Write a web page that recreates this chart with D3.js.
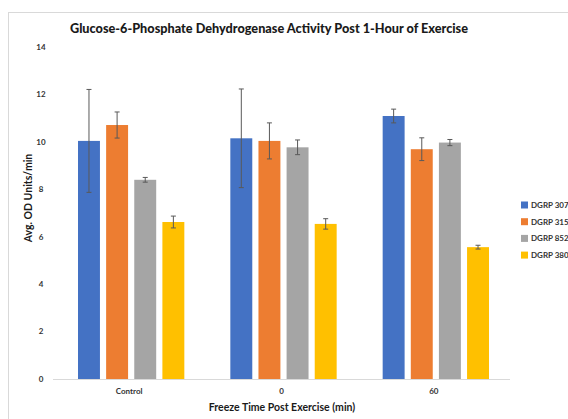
<!DOCTYPE html>
<html>
<head>
<meta charset="utf-8">
<script src="https://cdn.jsdelivr.net/npm/d3@7"></script>
<style>
  body { margin: 0; background: #fff; }
  text { font-family: Lato, "Open Sans", sans-serif; }
</style>
</head>
<body>
<div id="chart"></div>
<script>
// data
var categories = ["Control", "0", "60"];
var series = ["DGRP 307", "DGRP 315", "DGRP 852", "DGRP 380"];
var colors = ["#4472C4", "#ED7D31", "#A5A5A5", "#FFC000"];
var values = [
  [10.04, 10.15, 11.09],
  [10.71, 10.04, 9.69],
  [8.40, 9.77, 9.97],
  [6.62, 6.54, 5.56]
];
var errors = [
  [2.17, 2.08, 0.29],
  [0.55, 0.76, 0.48],
  [0.10, 0.31, 0.13],
  [0.25, 0.22, 0.08]
];
var yTicks = [0, 2, 4, 6, 8, 10, 12, 14];

var W = 568, H = 419;
var margin = {top: 47, left: 53},
    width = 457, height = 332;

var svg = d3.select("#chart").append("svg")
    .attr("width", W).attr("height", H);

// chart frame
svg.append("rect")
    .attr("x", 8.5).attr("y", 12.5)
    .attr("width", 620).attr("height", 430)
    .attr("fill", "#fff").attr("stroke", "#d9d9d9");

var g = svg.append("g")
    .attr("transform", "translate(" + margin.left + "," + margin.top + ")");

var x0 = d3.scaleBand().domain(categories).range([0, width]);
var x1 = d3.scaleBand().domain(series).range([25, x0.bandwidth() - 21]).paddingInner(0.22);
var y = d3.scaleLinear().domain([0, 14]).range([height, 0]);

// y tick labels
g.selectAll(".ytick")
    .data(yTicks)
    .enter().append("text")
    .attr("x", -12)
    .attr("y", function(d) { return y(d); })
    .attr("dy", "0.35em")
    .attr("text-anchor", "middle")
    .attr("font-size", 8)
    .attr("font-weight", "bold")
    .attr("fill", "#333")
    .text(function(d) { return d; });

// bars
var rows = [];
series.forEach(function(s, i) {
  categories.forEach(function(c, j) {
    rows.push({s: s, c: c, v: values[i][j], e: errors[i][j], col: colors[i]});
  });
});

g.selectAll(".bar")
    .data(rows)
    .enter().append("rect")
    .attr("x", function(d) { return x0(d.c) + x1(d.s); })
    .attr("y", function(d) { return y(d.v); })
    .attr("width", x1.bandwidth())
    .attr("height", function(d) { return height - y(d.v); })
    .attr("fill", function(d) { return d.col; });

// x axis line
g.append("line")
    .attr("x1", 0).attr("x2", width)
    .attr("y1", height + 0.5).attr("y2", height + 0.5)
    .attr("stroke", "#d9d9d9");

// error bars
var eb = g.selectAll(".err")
    .data(rows)
    .enter().append("g")
    .attr("stroke", "#595959")
    .attr("stroke-width", 1);
eb.append("line")
    .attr("x1", function(d) { return x0(d.c) + x1(d.s) + x1.bandwidth() / 2; })
    .attr("x2", function(d) { return x0(d.c) + x1(d.s) + x1.bandwidth() / 2; })
    .attr("y1", function(d) { return y(d.v + d.e); })
    .attr("y2", function(d) { return y(d.v - d.e); });
[1, -1].forEach(function(sg) {
  eb.append("line")
      .attr("x1", function(d) { return x0(d.c) + x1(d.s) + x1.bandwidth() / 2 - 2.5; })
      .attr("x2", function(d) { return x0(d.c) + x1(d.s) + x1.bandwidth() / 2 + 2.5; })
      .attr("y1", function(d) { return y(d.v + sg * d.e); })
      .attr("y2", function(d) { return y(d.v + sg * d.e); });
});

// category labels
g.selectAll(".xlab")
    .data(categories)
    .enter().append("text")
    .attr("x", function(d) { return x0(d) + x0.bandwidth() / 2; })
    .attr("y", height + 15)
    .attr("text-anchor", "middle")
    .attr("font-size", 8)
    .attr("font-weight", "bold")
    .attr("fill", "#333")
    .text(function(d) { return d; });

// title
svg.append("text")
    .attr("x", 269).attr("y", 33)
    .attr("text-anchor", "middle")
    .attr("font-size", 12.7)
    .attr("font-weight", 900)
    .attr("fill", "#1a1a1a")
    .text("Glucose-6-Phosphate Dehydrogenase Activity Post 1-Hour of Exercise");

// axis titles
svg.append("text")
    .attr("x", 282).attr("y", 411)
    .attr("text-anchor", "middle")
    .attr("font-size", 10.5)
    .attr("font-weight", "bold")
    .attr("fill", "#1a1a1a")
    .text("Freeze Time Post Exercise (min)");

svg.append("text")
    .attr("transform", "translate(32,198) rotate(-90)")
    .attr("text-anchor", "middle")
    .attr("font-size", 10.5)
    .attr("font-weight", "bold")
    .attr("fill", "#1a1a1a")
    .text("Avg. OD Units/min");

// legend
var leg = svg.selectAll(".leg")
    .data(series)
    .enter().append("g")
    .attr("transform", function(d, i) { return "translate(521," + (205 + i * 16.7) + ")"; });
leg.append("rect")
    .attr("x", 0).attr("y", -3.5)
    .attr("width", 7).attr("height", 7)
    .attr("fill", function(d, i) { return colors[i]; });
leg.append("text")
    .attr("x", 10).attr("dy", "0.35em")
    .attr("font-size", 8)
    .attr("font-weight", "bold")
    .attr("fill", "#333")
    .text(function(d) { return d; });
</script>
</body>
</html>
